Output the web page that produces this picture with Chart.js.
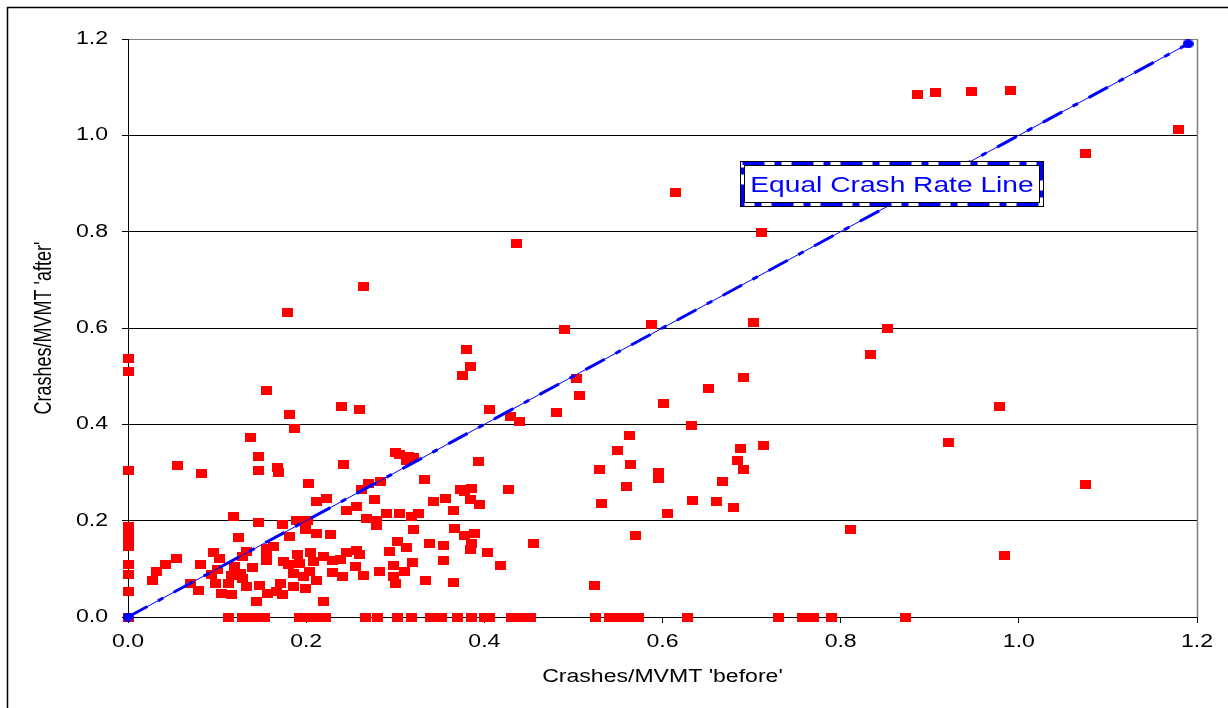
<!DOCTYPE html>
<html>
<head>
<meta charset="utf-8">
<script src="https://cdn.jsdelivr.net/npm/chart.js@4/dist/chart.umd.min.js"></script>
<style>
  html, body { margin: 0; padding: 0; background: #ffffff; }
  #wrap { width: 1228px; height: 708px; }
  canvas { display: block; }
</style>
</head>
<body>
<div id="wrap"><canvas id="c" width="1228" height="708"></canvas></div>
<script>
// ---- data ----
const beforeX = [
  0,0,0,0,0,0,0,0,0,0,
  0,0.056,0.083,0.118,0.124,0.055,0.042,0.032,0.028,0.081,
  0.096,0.103,0.101,0.094,0.07,0.079,0.098,0.105,0.113,0.116,
  0.12,0.126,0.116,0.128,0.113,0.128,0.187,0.137,0.146,0.146,
  0.168,0.169,0.242,0.203,0.212,0.223,0.262,0.245,0.256,0.27,
  0.268,0.146,0.173,0.189,0.202,0.199,0.212,0.227,0.181,0.163,
  0.156,0.156,0.156,0.133,0.14,0.129,0.133,0.148,0.144,0.157,
  0.171,0.173,0.167,0.186,0.199,0.212,0.174,0.18,0.19,0.192,
  0.186,0.197,0.204,0.205,0.208,0.219,0.229,0.23,0.238,0.241,
  0.245,0.257,0.26,0.255,0.264,0.219,0.138,0.146,0.153,0.192,
  0.199,0.206,0.214,0.222,0.267,0.3,0.305,0.315,0.32,0.313,
  0.393,0.333,0.283,0.277,0.343,0.356,0.365,0.373,0.378,0.386,
  0.384,0.395,0.279,0.279,0.29,0.305,0.318,0.326,0.321,0.302,
  0.313,0.294,0.282,0.298,0.298,0.3,0.31,0.319,0.334,0.339,
  0.354,0.354,0.365,0.367,0.378,0.389,0.386,0.385,0.403,0.28,
  0.303,0.318,0.34,0.352,0.37,0.386,0.4,0.264,0.179,0.38,
  0.385,0.376,0.155,0.24,0.26,0.181,0.406,0.49,0.503,0.507,
  0.481,0.429,0.44,0.563,0.55,0.564,0.529,0.56,0.532,0.427,
  0.57,0.455,0.418,0.524,0.406,0.43,0.44,0.446,0.452,0.525,
  0.54,0.548,0.555,0.565,0.573,0.588,0.702,0.691,0.652,0.601,
  0.632,0.687,0.713,0.684,0.691,0.595,0.595,0.667,0.634,0.661,
  0.68,0.606,0.628,0.73,0.615,0.436,0.886,0.906,0.947,0.991,
  1.179,1.075,0.711,0.853,0.834,0.978,0.921,1.075,0.811,0.984,
  0.757,0.77,0.79,0.873
];
const afterY = [
  0.537,0.509,0.305,0.187,0.179,0.16,0.147,0.108,0.089,0.053,
  0,0.314,0.298,0.208,0.165,0.122,0.11,0.094,0.075,0.109,
  0.134,0.122,0.098,0.089,0.07,0.055,0.07,0.049,0.07,0.087,
  0.104,0.091,0.046,0.125,0,0,0.392,0.373,0.333,0.305,
  0.31,0.3,0.317,0.278,0.239,0.246,0.264,0.222,0.23,0.278,
  0.205,0.196,0.193,0.201,0.201,0.181,0.174,0.172,0.168,0.147,
  0.143,0.132,0.118,0.137,0.103,0.08,0.063,0.066,0.032,0.048,
  0.07,0.046,0.053,0.063,0.06,0.075,0.115,0.11,0.129,0.111,
  0.091,0.085,0.094,0.133,0.115,0.125,0.118,0.093,0.12,0.085,
  0.133,0.139,0.129,0.104,0.087,0.032,0,0,0,0,
  0,0,0,0,0,0.341,0.338,0.333,0.332,0.324,
  0.322,0.286,0.281,0.243,0.239,0.245,0.221,0.264,0.26,0.267,
  0.243,0.233,0.201,0.189,0.214,0.214,0.208,0.214,0.181,0.156,
  0.144,0.136,0.094,0.106,0.084,0.07,0.094,0.113,0.075,0.153,
  0.149,0.118,0.072,0.184,0.17,0.174,0.152,0.141,0.133,0,
  0,0,0,0,0,0,0,0.686,0.633,0.556,
  0.521,0.502,0.471,0.438,0.431,0.421,0.431,0.596,0.496,0.459,
  0.424,0.416,0.405,0.376,0.345,0.317,0.307,0.27,0.236,0.264,
  0.17,0.153,0.106,0.065,0,0,0,0,0,0,
  0,0,0,0,0,0.608,0.611,0.497,0.475,0.444,
  0.397,0.35,0.356,0.325,0.307,0.3,0.288,0.282,0.241,0.239,
  0.227,0.215,0,0,0.882,0.776,1.084,1.088,1.09,1.094,
  1.013,0.963,0.798,0.598,0.544,0.437,0.362,0.275,0.181,0.127,
  0,0,0,0
];
const lineX = [0, 1.19];
const lineY = [0, 1.19];
const tickValues = [0, 0.2, 0.4, 0.6, 0.8, 1.0, 1.2];
const xTitle = "Crashes/MVMT 'before'";
const yTitle = "Crashes/MVMT 'after'";
const lineLabel = "Equal Crash Rate Line";
const labelAnchor = [0.858, 0.899];

// ---- rendering ----
const FONT = "'Liberation Sans', Arial, Helvetica, sans-serif";
const SX = 1.28; // the reference picture is stretched horizontally
const canvas = document.getElementById('c');
const ctx = canvas.getContext('2d');
const protoFill = CanvasRenderingContext2D.prototype.fillText;
ctx.fillText = function (t, x, y, mw) {
  const m = this.getTransform();
  const p = m.transformPoint(new DOMPoint(x, y));
  this.save();
  this.setTransform(new DOMMatrix().translate(p.x, p.y).scale(SX, 1).translate(-p.x, -p.y).multiply(m));
  if (mw === undefined) protoFill.call(this, t, x, y); else protoFill.call(this, t, x, y, mw);
  this.restore();
};

function makeRect(w, h, color) {
  const c = document.createElement('canvas'); c.width = w; c.height = h;
  const g = c.getContext('2d'); g.fillStyle = color; g.fillRect(0, 0, w, h); return c;
}
function makeEllipse(w, h, color) {
  const c = document.createElement('canvas'); c.width = w; c.height = h;
  const g = c.getContext('2d'); g.fillStyle = color; g.beginPath();
  g.ellipse(w / 2, h / 2, w / 2, h / 2, 0, 0, Math.PI * 2); g.fill(); return c;
}
const redMark = makeRect(11, 9, '#FF0000');
const blueDot = makeEllipse(11, 9, '#0000FF');

const scatterData = beforeX.map((x, i) => ({ x: x, y: afterY[i] }));
const lineData = lineX.map((x, i) => ({ x: x, y: lineY[i] }));

const framePlugin = {
  id: 'framePlugin',
  beforeDraw(chart) {
    const c = chart.ctx; c.save(); c.fillStyle = '#ffffff'; c.fillRect(0, 0, chart.width, chart.height); c.restore();
  },
  beforeDatasetsDraw(chart) {
    const c = chart.ctx, a = chart.chartArea;
    c.save(); c.strokeStyle = '#808080'; c.lineWidth = 1.5;
    c.beginPath(); c.moveTo(a.right + 0.5, a.top); c.lineTo(a.right + 0.5, a.bottom); c.stroke();
    c.restore();
  },
  afterDatasetsDraw(chart) {
    const c = chart.ctx;
    const cx = chart.scales.x.getPixelForValue(labelAnchor[0]);
    const cy = chart.scales.y.getPixelForValue(labelAnchor[1]);
    const W = 304, H = 46;
    const L = Math.round(cx - W / 2), T = Math.round(cy - H / 2);
    c.save();
    c.fillStyle = '#ffffff'; c.fillRect(L, T, W, H);
    c.strokeStyle = '#000000'; c.lineWidth = 1; c.strokeRect(L + 0.5, T + 0.5, W - 1, H - 1);
    c.strokeStyle = '#0000FF'; c.lineWidth = 3; c.setLineDash([22, 10, 7, 10]);
    c.strokeRect(L + 2.5, T + 2.5, W - 5, H - 5);
    c.setLineDash([]); c.strokeStyle = '#000000'; c.lineWidth = 1;
    c.strokeRect(L + 4.5, T + 4.5, W - 9, H - 9);
    c.fillStyle = '#0000FF'; c.font = '22px ' + FONT; c.textAlign = 'center'; c.textBaseline = 'alphabetic';
    c.fillText(lineLabel, L + W / 2, T + H / 2 + 8);
    c.restore();
  },
  afterDraw(chart) {
    const c = chart.ctx; c.save(); c.strokeStyle = '#000000'; c.lineWidth = 1.5;
    c.strokeRect(7.5, 7.5, 2000, 2000); c.restore();
  }
};

const tickFont = { family: FONT, size: 18 };
const titleFont = { family: FONT, size: 18 };

new Chart(canvas, {
  type: 'scatter',
  data: {
    datasets: [
      {
        label: 'Equal dashes', data: lineData, showLine: true, borderColor: '#0000FF', borderWidth: 3,
        borderDash: [22, 12, 6, 12], pointStyle: blueDot, pointRadius: 5, clip: false
      },
      {
        label: 'Equal Crash Rate Line', data: lineData, showLine: true, borderColor: '#0000FF', borderWidth: 1,
        pointRadius: 0, clip: false
      },
      {
        label: 'Sites', data: scatterData, showLine: false, pointStyle: redMark, pointRadius: 5, clip: false
      }
    ]
  },
  options: {
    responsive: false, animation: false, devicePixelRatio: 1,
    layout: { padding: { left: 0, top: 39, right: 31, bottom: 0 } },
    plugins: { legend: { display: false }, tooltip: { enabled: false } },
    scales: {
      x: {
        type: 'linear', position: 'bottom', min: 0, max: 1.2,
        afterFit: s => { s.height = 91; },
        afterBuildTicks: s => { s.ticks = tickValues.map(v => ({ value: v })); },
        ticks: { callback: v => Number(v).toFixed(1), color: '#000', font: tickFont, padding: 8, maxRotation: 0, autoSkip: false },
        grid: { drawOnChartArea: false, drawTicks: true, tickLength: 6, tickColor: '#000' },
        border: { display: true, color: '#000', width: 1 },
        title: { display: true, text: xTitle, color: '#000', font: titleFont, padding: { top: 0, bottom: 20 } }
      },
      y: {
        type: 'linear', position: 'left', min: 0, max: 1.2,
        afterFit: s => { s.width = 128; },
        afterBuildTicks: s => { s.ticks = tickValues.map(v => ({ value: v })); },
        ticks: { callback: v => Number(v).toFixed(1), color: '#000', font: tickFont, padding: 14 },
        grid: {
          color: c => (c.tick && c.tick.value === 1.2) ? '#808080' : '#000000',
          lineWidth: 1, drawTicks: true, tickLength: 6, tickColor: '#000'
        },
        border: { display: true, color: '#000', width: 1 },
        title: { display: true, text: yTitle, color: '#000', font: titleFont, padding: { top: 34, bottom: 0 } }
      }
    }
  },
  plugins: [framePlugin]
});
</script>
</body>
</html>
